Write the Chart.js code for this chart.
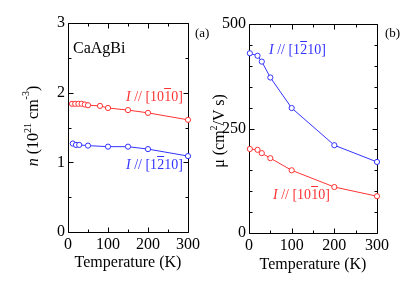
<!DOCTYPE html>
<html>
<head>
<meta charset="utf-8">
<script src="https://cdn.jsdelivr.net/npm/chart.js@4.4.1/dist/chart.umd.min.js"></script>
<style>
  html, body { margin:0; padding:0; background:#fff; }
  #wrap { position:relative; width:415px; height:287px; overflow:hidden; background:#fff; }
  canvas { position:absolute; top:0; }
  .t { position:absolute; font-family:'Liberation Serif','Times New Roman',serif; white-space:nowrap; line-height:1; color:#000; }
  .sup { position:relative; font-size:10px; }
  .ol { text-decoration:overline; text-decoration-thickness:1px; }
  .red { color:#ff3333; }
  .blue { color:#3333ff; }
  .rot { transform: translate(-50%,-50%) rotate(-90deg); }
  .ctr { transform: translate(-50%,0); }
</style>
</head>
<body>
<div id="wrap">
  <canvas id="cA" width="205" height="287" style="left:0;width:205px;height:287px"></canvas>
  <canvas id="cB" width="210" height="287" style="left:205px;width:210px;height:287px"></canvas>

  <div class="t" style="left:73px;top:39.6px;font-size:16px">CaAgBi</div>
  <div class="t" style="left:195px;top:26px;font-size:13px">(a)</div>
  <div class="t" style="left:385px;top:26px;font-size:13px">(b)</div>

  <div class="t red" style="left:126px;top:90.3px;font-size:14px"><i>I</i> // [10<span class="ol">1</span>0]</div>
  <div class="t blue" style="left:126px;top:158.3px;font-size:14px"><i>I</i> // [1<span class="ol">2</span>10]</div>
  <div class="t blue" style="left:269px;top:43.3px;font-size:14px"><i>I</i> // [1<span class="ol">2</span>10]</div>
  <div class="t red" style="left:273px;top:188.3px;font-size:14px"><i>I</i> // [10<span class="ol">1</span>0]</div>

  <div class="t ctr" style="left:128px;top:254px;font-size:16px">Temperature (K)</div>
  <div class="t ctr" style="left:313px;top:255.5px;font-size:16px">Temperature (K)</div>

  <div class="t rot" style="left:33px;top:126px;font-size:16px"><i>n</i> (10<span class="sup" style="top:-7px">21</span> cm<span class="sup" style="top:-9px">-3</span>)</div>
  <div class="t rot" style="left:218.5px;top:131px;font-size:16px">μ (cm<span class="sup" style="top:-7px">2</span>/V s)</div>
</div>
<script>
// ---- data: panel (a) carrier density ----
const tempN_1010 = [10, 18, 26, 34, 42, 50, 80, 100, 150, 200, 300];
const n_1010     = [1.84, 1.84, 1.84, 1.84, 1.83, 1.82, 1.81, 1.78, 1.75, 1.71, 1.61];
const tempN_1210 = [12, 20, 28, 50, 100, 150, 200, 300];
const n_1210     = [1.27, 1.25, 1.25, 1.24, 1.225, 1.225, 1.19, 1.09];

// ---- data: panel (b) mobility ----
const tempMu   = [2, 20, 30, 50, 100, 200, 300];
const mu_1210  = [430, 424, 410, 372, 299, 210, 170];
const mu_1010  = [201, 199, 191, 179, 150, 110, 88];

// ---- tick labels ----
const xTicks  = [0, 100, 200, 300];
const xLabels = ['0', '100', '200', '300'];
const nTicks  = [0, 1, 2, 3];
const nLabels = ['0', '1', '2', '3'];
const muTicks = [0, 250, 500];
const muLabels = ['0', '250', '500'];

const RED = '#ff3333', BLUE = '#3333ff';
const FONT = {family: "'Liberation Serif','Times New Roman',serif", size: 16};

function pts(xs, ys) { return xs.map((x, i) => ({x: x, y: ys[i]})); }

const framePlugin = {
  id: 'frame',
  beforeDatasetsDraw(chart, args, o) {
    const ctx = chart.ctx, xs = chart.scales.x, ys = chart.scales.y;
    const L = Math.round(xs.getPixelForValue(xs.min)) + 0.5;
    const R = Math.round(xs.getPixelForValue(xs.max)) + 0.5;
    const T = Math.round(ys.getPixelForValue(ys.max)) + 0.5;
    const B = Math.round(ys.getPixelForValue(ys.min)) + 0.5;
    ctx.save();
    ctx.strokeStyle = '#000';
    ctx.lineWidth = 1;
    ctx.beginPath();
    ctx.rect(L, T, R - L, B - T);
    const MAJ = 5, MIN = 3;
    function xt(v, len) {
      const p = Math.round(xs.getPixelForValue(v)) + 0.5;
      ctx.moveTo(p, B); ctx.lineTo(p, B - len);
      ctx.moveTo(p, T); ctx.lineTo(p, T + len);
    }
    function yt(v, len) {
      const p = Math.round(ys.getPixelForValue(v)) + 0.5;
      ctx.moveTo(L, p); ctx.lineTo(L + len, p);
      ctx.moveTo(R, p); ctx.lineTo(R - len, p);
    }
    const xMaj = xs.ticks.map(t => t.value), yMaj = ys.ticks.map(t => t.value);
    xMaj.forEach(v => xt(v, MAJ));
    yMaj.forEach(v => yt(v, MAJ));
    for (let v = xs.min; v <= xs.max + 1e-9; v += o.xMinor) {
      if (!xMaj.some(m => Math.abs(m - v) < 1e-6)) xt(v, MIN);
    }
    for (let v = ys.min; v <= ys.max + 1e-9; v += o.yMinor) {
      if (!yMaj.some(m => Math.abs(m - v) < 1e-6)) yt(v, MIN);
    }
    ctx.stroke();
    ctx.restore();
  }
};

function ds(data, color) {
  return {
    data: data,
    borderColor: color,
    borderWidth: 1,
    pointRadius: 2.6,
    pointBorderWidth: 1,
    pointBackgroundColor: '#fff',
    pointBorderColor: color,
    tension: 0,
    clip: false
  };
}

function makeChart(id, datasets, yMax, yTickVals, yTickLabels, pad, yWidth, yMinor) {
  return new Chart(document.getElementById(id), {
    type: 'line',
    data: {datasets: datasets},
    plugins: [framePlugin],
    options: {
      responsive: false,
      animation: false,
      devicePixelRatio: 1,
      layout: {padding: pad},
      plugins: {
        legend: {display: false},
        tooltip: {enabled: false},
        frame: {xMinor: 50, yMinor: yMinor}
      },
      scales: {
        x: {
          type: 'linear', min: 0, max: 300,
          grid: {display: false, drawTicks: false},
          border: {display: false},
          afterBuildTicks: s => { s.ticks = xTicks.map(v => ({value: v})); },
          afterFit: s => { s.height = 287 - pad.bottomEdge; },
          ticks: {
            font: FONT, color: '#000', padding: 3, maxRotation: 0, autoSkip: false,
            callback: (v) => xLabels[xTicks.indexOf(v)]
          }
        },
        y: {
          type: 'linear', min: 0, max: yMax,
          grid: {display: false, drawTicks: false},
          border: {display: false},
          afterBuildTicks: s => { s.ticks = yTickVals.map(v => ({value: v})); },
          afterFit: s => { s.width = yWidth; },
          ticks: {
            font: FONT, color: '#000', padding: 3, autoSkip: false,
            callback: (v) => yTickLabels[yTickVals.indexOf(v)]
          }
        }
      }
    }
  });
}

makeChart('cA',
  [ds(pts(tempN_1010, n_1010), RED), ds(pts(tempN_1210, n_1210), BLUE)],
  3, nTicks, nLabels,
  {left: 0, right: 17, top: 23, bottom: 0, bottomEdge: 232}, 68, 0.5);

makeChart('cB',
  [ds(pts(tempMu, mu_1210), BLUE), ds(pts(tempMu, mu_1010), RED)],
  500, muTicks, muLabels,
  {left: 0, right: 38, top: 24, bottom: 0, bottomEdge: 233}, 44, 50);
</script>
</body>
</html>
